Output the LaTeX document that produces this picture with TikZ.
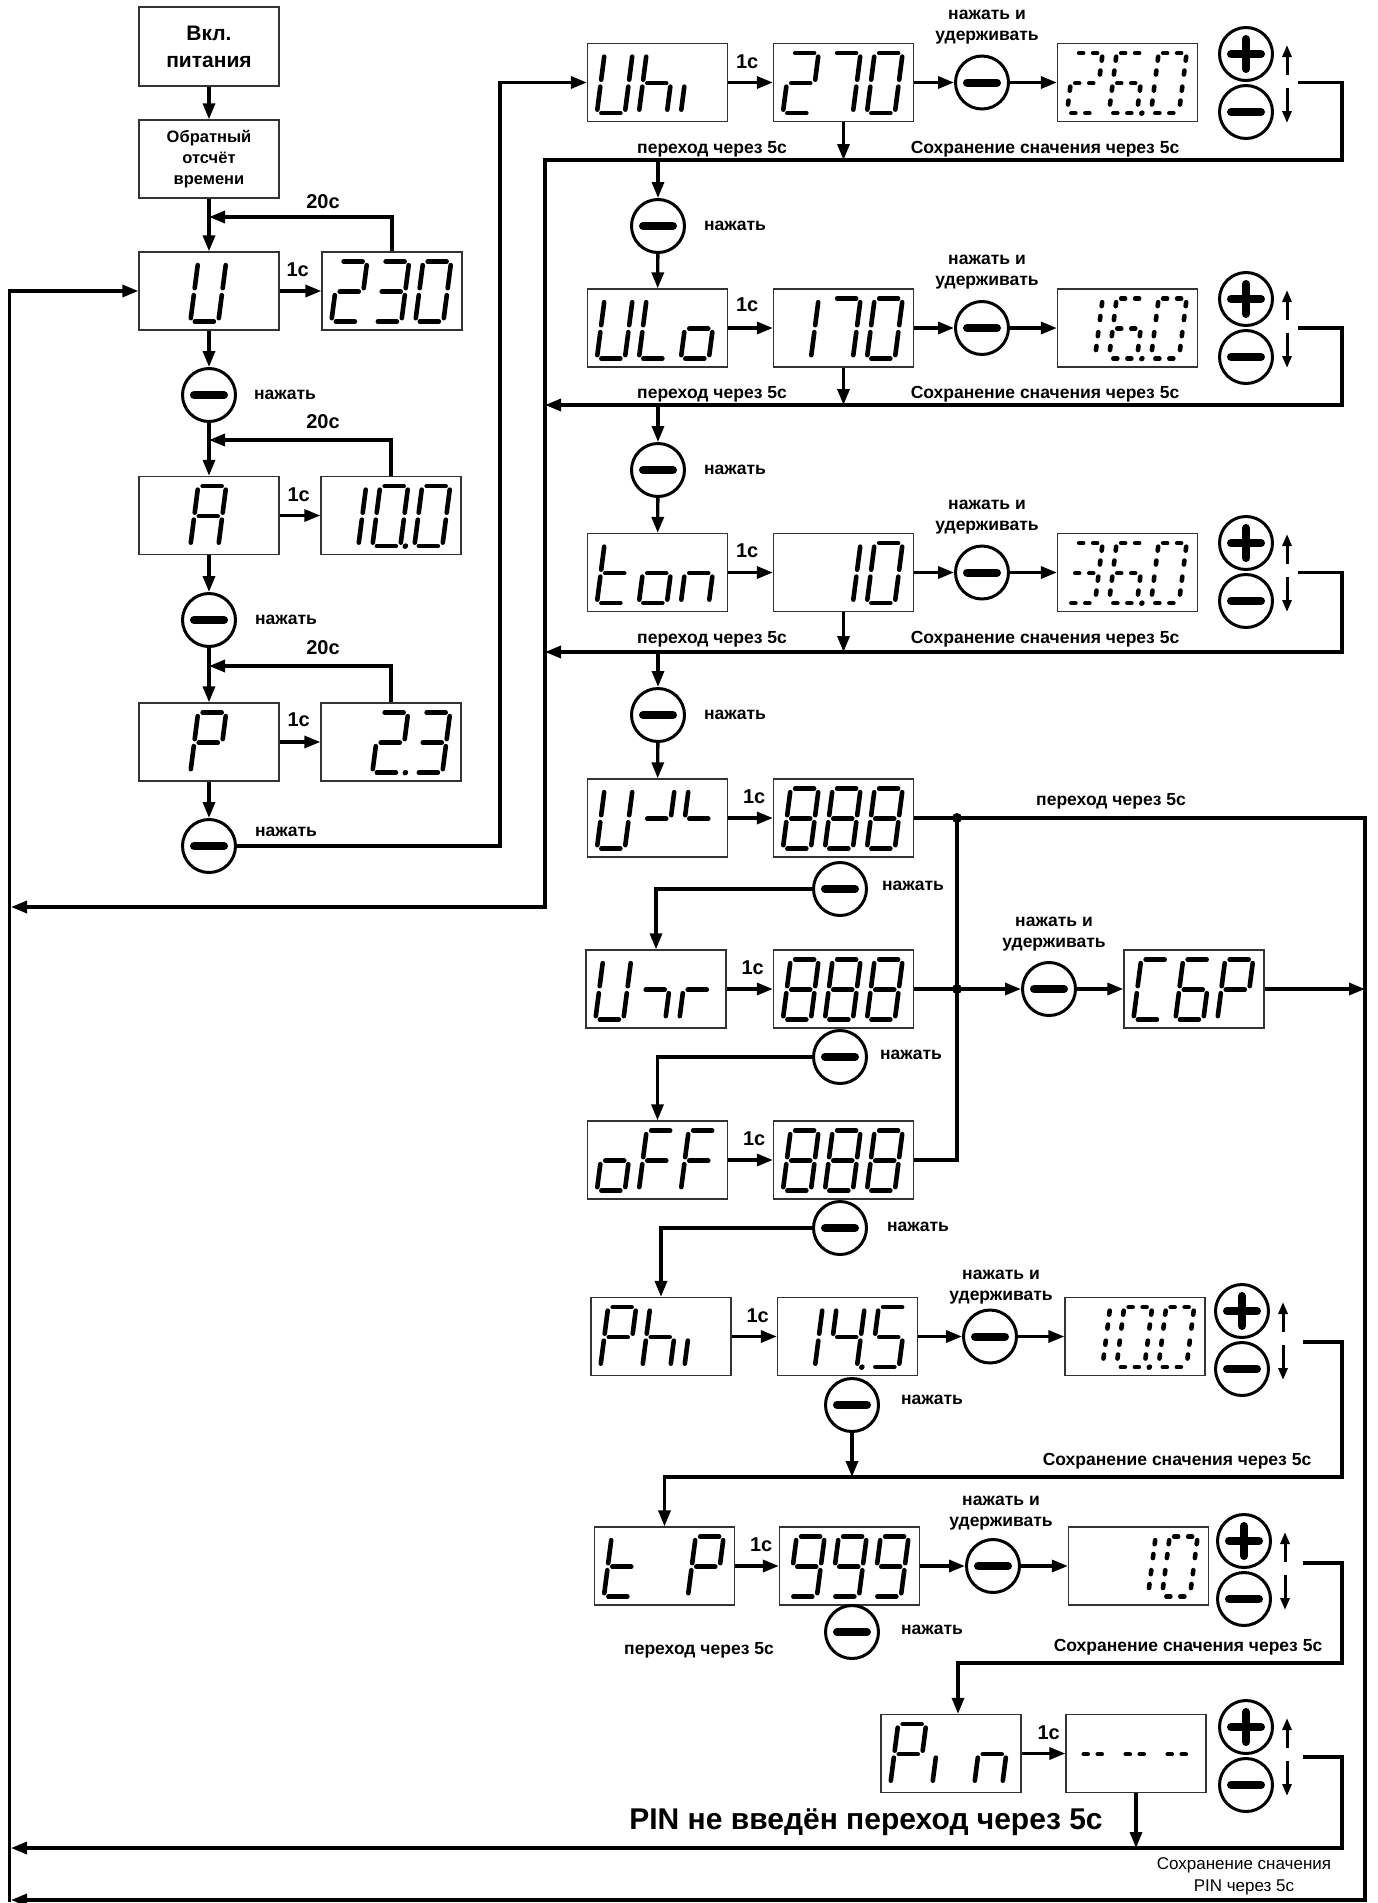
\documentclass[tikz,border=0pt]{standalone}
\usepackage{fontspec}
\setmainfont{Liberation Sans}
\usetikzlibrary{arrows.meta, calc}

% seven segment cells (local y down, origin = bottom left of a cell)
\tikzset{sgl/.style={line width=4.6pt, line cap=round},
  blink/.style={dash pattern=on 4pt off 10pt}}
\def\sga{\draw[sgl] (4.5,-60)--(23.5,-60);}
\def\sgb{\draw[sgl] (28,-56.5)--(28,-33.5);}
\def\sgc{\draw[sgl] (28,-26.5)--(28,-3.5);}
\def\sgd{\draw[sgl] (4.5,0)--(23.5,0);}
\def\sge{\draw[sgl] (0,-26.5)--(0,-3.5);}
\def\sgf{\draw[sgl] (0,-56.5)--(0,-33.5);}
\def\sgg{\draw[sgl] (4.5,-30)--(23.5,-30);}
\def\sgp{\fill (33,0) circle (2.8);}
\def\segzero{a,b,c,d,e,f}
\def\segone{b,c}
\def\segtwo{a,b,g,e,d}
\def\segthree{a,b,g,c,d}
\def\segfour{f,g,b,c}
\def\segfive{a,f,g,c,d}
\def\segsix{a,f,g,e,d,c}
\def\segseven{a,b,c}
\def\segeight{a,b,c,d,e,f,g}
\def\segnine{a,b,c,d,f,g}
\def\segU{b,c,d,e,f}
\def\segA{a,b,c,e,f,g}
\def\segP{a,b,e,f,g}
\def\segh{f,e,g,c}
\def\segL{f,e,d}
\def\sego{g,c,d,e}
\def\segt{f,e,g,d}
\def\segn{e,g,c}
\def\segF{a,e,f,g}
\def\segC{a,d,e,f}
\def\segb{a,f,g,e,d,c}
% #1 extra style, #2 display node, #3 cell 0..2, #4 segments
\newcommand\dg[4][]{%
  \edef\seglist{#4}%
  \begin{scope}[shift={($(#2.south west)+(10+42*#3,-9)$)}, xslant=0.13, sgl/.append style={#1}]
    \foreach \s in \seglist {\csname sg\s\endcsname}
  \end{scope}}
% plus / minus keys with small arrows
\newcommand\updn[3]{%
  \node[btnp] (#1p) at (#2,#3-29) {};
  \node[btnm] (#1m) at (#2,#3+29) {};
  \draw[sar] ($(#1p)+(41,21)$) -- ($(#1p)+(41,-9)$);
  \draw[sar] ($(#1m)+(41,-24)$) -- ($(#1m)+(41,11)$);}

\begin{document}
\begin{tikzpicture}[x=1pt, y=-1pt,
  lcd/.style={draw=black!80, line width=1.3pt, minimum width=140pt, minimum height=78pt, inner sep=0pt},
  tbox/.style={lcd, align=center, font=\bfseries\fontsize{16.5}{21}\selectfont},
  btn/.style={circle, draw, line width=3pt, minimum size=53pt, inner sep=0pt},
  btnm/.style={btn, path picture={\draw[line width=8pt, line cap=round]
      ($(path picture bounding box.center)+(-15,0)$) -- ($(path picture bounding box.center)+(15,0)$);}},
  btnp/.style={btn, path picture={\draw[line width=8pt, line cap=round]
      ($(path picture bounding box.center)+(-15,0)$) -- ($(path picture bounding box.center)+(15,0)$)
      ($(path picture bounding box.center)+(0,-15)$) -- ($(path picture bounding box.center)+(0,15)$);}},
  ln/.style={line width=3.3pt},
  ar/.style={ln, -{Triangle[length=16pt, width=12pt]}},
  sar/.style={line width=3pt, -{Triangle[length=12pt, width=9pt]}},
  lbl/.style={font=\bfseries\fontsize{17.5}{21}\selectfont, inner sep=0pt, align=center},
  sec/.style={font=\bfseries\fontsize{20}{22}\selectfont, inner sep=0pt},
  dot/.style={circle, fill, inner sep=0pt, minimum size=10pt},
]
\useasboundingbox (0,0) rectangle (1378,1903);

% left column: power on, countdown, U / A / P
\node[tbox, font=\bfseries\fontsize{21}{27}\selectfont, minimum height=79pt] (pwr) at (209,46.5) {Вкл.\\питания};
\node[tbox] (cnt) at (209,159) {Обратный\\отсчёт\\времени};
\node[lcd] (lu) at (209,291) {};
\node[lcd] (luv) at (392,291) {};
\node[btnm] (b1) at (209,395) {};
\node[lcd] (la) at (209,515.5) {};
\node[lcd] (lav) at (391,515.5) {};
\node[btnm] (b2) at (209,620) {};
\node[lcd] (lp) at (209,742) {};
\node[lcd] (lpv) at (391,742) {};
\node[btnm] (b3) at (209,846) {};
\coordinate (j1) at (209,217);
\coordinate (j2) at (209,440);
\coordinate (j3) at (209,666);

\draw[ar] (pwr) -- (cnt);
\draw[ar] (cnt) -- (lu);
\draw[ar] (lu) -- (luv);
\draw[ar] (luv.north) |- (j1);
\draw[ar] (lu) -- (b1);
\draw[ar] (b1) -- (la);
\draw[ar] (la) -- (lav);
\draw[ar] (lav.north) |- (j2);
\draw[ar] (la) -- (b2);
\draw[ar] (b2) -- (lp);
\draw[ar] (lp) -- (lpv);
\draw[ar] (lpv.north) |- (j3);
\draw[ar] (lp) -- (b3);

\node[sec] (s20a) at (323,202) {20с};
\node[sec] (s20b) at (323,422) {20с};
\node[sec] (s20c) at (323,648) {20с};
\node[sec] (s1a) at ($(lu.east)+(18,-21)$) {1с};
\node[sec] (s1b) at ($(la.east)+(19,-21)$) {1с};
\node[sec] (s1c) at ($(lp.east)+(19,-22)$) {1с};
\node[lbl] (pa) at (285,395) {нажать};
\node[lbl] (pb) at (286,620) {нажать};
\node[lbl] (pc) at (286,832) {нажать};

\dg{lu}{1}{\segU}
\dg{luv}{0}{\segtwo} \dg{luv}{1}{\segthree} \dg{luv}{2}{\segzero}
\dg{la}{1}{\segA}
\dg{lav}{0}{\segone} \dg{lav}{1}{\segzero,p} \dg{lav}{2}{\segzero}
\dg{lp}{1}{\segP}
\dg{lpv}{1}{\segtwo,p} \dg{lpv}{2}{\segthree}

% row Uhi
\node[lcd] (uhi) at (657.5,82.5) {};
\node[lcd] (uhiv) at (843.5,82.5) {};
\node[btnm] (uhib) at (982,82.5) {};
\node[lcd] (uhie) at (1127.5,82.5) {};
\updn{uhik}{1246}{83}
\coordinate (k1) at (500,82.5);
\coordinate (s1) at (1298,82.5);
\coordinate (r1) at (1342,160);
\coordinate (t1) at (545,160);
\coordinate (t2) at (11,907);
\draw[ar] (b3) -| (k1) -- (uhi);
\draw[ar] (uhi) -- (uhiv);
\draw[ar] (uhiv) -- (uhib);
\draw[ar] (uhib) -- (uhie);
\draw[ar] (s1) -| (r1) -- (t1) |- (t2);
\draw[ar] (uhiv) -- (uhiv |- r1);
\node[btnm] (c1) at (658,226) {};
\draw[ar] (c1 |- r1) -- (c1);
\node[sec] (s1d) at ($(uhi.east)+(19,-21)$) {1с};
\node[lbl] (h1) at (987,27) {нажать и\\удерживать};
\node[lbl] (g1) at (712,149) {переход через 5с};
\node[lbl] (v1) at (1045,149) {Сохранение сначения через 5с};
\node[lbl] (pd) at (735,226) {нажать};
\dg{uhi}{0}{\segU} \dg{uhi}{1}{\segh} \dg{uhi}{2}{e}
\dg{uhiv}{0}{\segtwo} \dg{uhiv}{1}{\segseven} \dg{uhiv}{2}{\segzero}
\dg[blink]{uhie}{0}{\segtwo} \dg[blink]{uhie}{1}{\segsix,p} \dg[blink]{uhie}{2}{\segzero}

% row ULo
\node[lcd] (ulo) at (657.5,328) {};
\node[lcd] (ulov) at (843.5,328) {};
\node[btnm] (ulob) at (982,328) {};
\node[lcd] (uloe) at (1127.5,328) {};
\updn{ulok}{1246}{328}
\coordinate (s2) at (1298,328);
\coordinate (r2) at (1342,405);
\draw[ar] (c1) -- (ulo);
\draw[ar] (ulo) -- (ulov);
\draw[ar] (ulov) -- (ulob);
\draw[ar] (ulob) -- (uloe);
\draw[ar] (s2) -| (r2) -- (r2 -| t1);
\draw[ar] (ulov) -- (ulov |- r2);
\node[btnm] (c2) at (658,470) {};
\draw[ar] (c2 |- r2) -- (c2);
\node[sec] (s1e) at ($(ulo.east)+(19,-23)$) {1с};
\node[lbl] (h2) at (987,272.5) {нажать и\\удерживать};
\node[lbl] (g2) at (712,394) {переход через 5с};
\node[lbl] (v2) at (1045,394) {Сохранение сначения через 5с};
\node[lbl] (pe) at (735,470) {нажать};
\dg{ulo}{0}{\segU} \dg{ulo}{1}{\segL} \dg{ulo}{2}{\sego}
\dg{ulov}{0}{\segone} \dg{ulov}{1}{\segseven} \dg{ulov}{2}{\segzero}
\dg[blink]{uloe}{0}{\segone} \dg[blink]{uloe}{1}{\segsix,p} \dg[blink]{uloe}{2}{\segzero}

% row ton
\node[lcd] (ton) at (657.5,572.5) {};
\node[lcd] (tonv) at (843.5,572.5) {};
\node[btnm] (tonb) at (982,572.5) {};
\node[lcd] (tone) at (1127.5,572.5) {};
\updn{tonk}{1246}{572}
\coordinate (s3) at (1298,572.5);
\coordinate (r3) at (1342,652);
\draw[ar] (c2) -- (ton);
\draw[ar] (ton) -- (tonv);
\draw[ar] (tonv) -- (tonb);
\draw[ar] (tonb) -- (tone);
\draw[ar] (s3) -| (r3) -- (r3 -| t1);
\draw[ar] (tonv) -- (tonv |- r3);
\node[btnm] (c3) at (658,715) {};
\draw[ar] (c3 |- r3) -- (c3);
\node[sec] (s1f) at ($(ton.east)+(19,-22)$) {1с};
\node[lbl] (h3) at (987,517.5) {нажать и\\удерживать};
\node[lbl] (g3) at (712,639) {переход через 5с};
\node[lbl] (v3) at (1045,639) {Сохранение сначения через 5с};
\node[lbl] (pf) at (735,715) {нажать};
\dg{ton}{0}{\segt} \dg{ton}{1}{\sego} \dg{ton}{2}{\segn}
\dg{tonv}{1}{\segone} \dg{tonv}{2}{\segzero}
\dg[blink]{tone}{0}{\segthree} \dg[blink]{tone}{1}{\segsix,p} \dg[blink]{tone}{2}{\segzero}

% rows U-L, Ur, oFF and reset
\node[lcd] (ul) at (657.5,818) {};
\node[lcd] (ulv) at (843.5,818) {};
\coordinate (jn1) at (957,818);
\coordinate (q1) at (1365,818);
\coordinate (q2) at (11,1900);
\draw[ar] (c3) -- (ul);
\draw[ar] (ul) -- (ulv);
\draw[ar] (ulv) -- (jn1) -- (q1) |- (q2);
\node[sec] (s1g) at ($(ul.east)+(26,-21)$) {1с};
\node[lbl] (g4) at (1111,801) {переход через 5с};
\dg{ul}{0}{\segU} \dg{ul}{1}{b,g} \dg{ul}{2}{f,g}
\dg{ulv}{0}{\segeight} \dg{ulv}{1}{\segeight} \dg{ulv}{2}{\segeight}

\node[lcd] (ur) at (656,989) {};
\node[lcd] (urv) at (843.5,989) {};
\node[btnm] (urb) at (1049,989) {};
\node[lcd] (sbr) at (1194,989) {};
\coordinate (jn2) at (957,989);
\node[btnm] (nb1) at (840,889) {};
\draw[ar] (nb1) -| (ur);
\draw[ar] (ur) -- (urv);
\draw[ln] (urv) -- (jn2);
\draw[ar] (jn2) -- (urb);
\draw[ar] (urb) -- (sbr);
\draw[ar] (sbr) -- (sbr -| q1);
\node[sec] (s1h) at ($(ur.east)+(26,-21)$) {1с};
\node[lbl] (ph) at (913,886) {нажать};
\node[lbl] (h4) at (1054,934.5) {нажать и\\удерживать};
\dg{ur}{0}{\segU} \dg{ur}{1}{c,g} \dg{ur}{2}{e,g}
\dg{urv}{0}{\segeight} \dg{urv}{1}{\segeight} \dg{urv}{2}{\segeight}
\dg{sbr}{0}{\segC} \dg{sbr}{1}{\segb} \dg{sbr}{2}{\segP}

\node[lcd] (off) at (657.5,1160) {};
\node[lcd] (offv) at (843.5,1160) {};
\coordinate (jn3) at (957,1160);
\node[btnm] (nb2) at (840,1057) {};
\draw[ar] (nb2) -| (off);
\draw[ar] (off) -- (offv);
\draw[ln] (offv) -- (jn3) -- (jn1);
\node[dot] (d1) at (jn1) {};
\node[dot] (d2) at (jn2) {};
\node[sec] (s1i) at ($(off.east)+(26,-21)$) {1с};
\node[lbl] (pi) at (911,1055) {нажать};
\dg{off}{0}{\sego} \dg{off}{1}{\segF} \dg{off}{2}{\segF}
\dg{offv}{0}{\segeight} \dg{offv}{1}{\segeight} \dg{offv}{2}{\segeight}
\node[btnm] (nb3) at (840,1228) {};
\node[lbl] (pj) at (918,1227) {нажать};

% row PHi
\node[lcd] (phi) at (661,1336.5) {};
\node[lcd] (phiv) at (847.5,1336.5) {};
\node[btnm] (phib) at (990,1336.5) {};
\node[lcd] (phie) at (1135,1336.5) {};
\updn{phik}{1242}{1340}
\node[lcd] (tp) at (664.5,1566) {};
\coordinate (s7) at (1303,1342);
\coordinate (r7) at (1342,1477);
\draw[ar] (nb3) -| (phi);
\draw[ar] (phi) -- (phiv);
\draw[ar] (phiv) -- (phib);
\draw[ar] (phib) -- (phie);
\draw[ar] (s7) -| (r7) -| (tp);
\node[btnm] (nb4) at (852,1405) {};
\draw[ar] (nb4) -- (nb4 |- r7);
\node[sec] (s1j) at ($(phi.east)+(26,-21)$) {1с};
\node[lbl] (h5) at (1001,1287) {нажать и\\удерживать};
\node[lbl] (pk) at (932,1400) {нажать};
\node[lbl] (v5) at (1177,1461) {Сохранение сначения через 5с};
\dg{phi}{0}{\segP} \dg{phi}{1}{\segh} \dg{phi}{2}{e}
\dg{phiv}{0}{\segone} \dg{phiv}{1}{\segfour,p} \dg{phiv}{2}{\segfive}
\dg[blink]{phie}{0}{\segone} \dg[blink]{phie}{1}{\segzero,p} \dg[blink]{phie}{2}{\segzero}

% row tP
\node[lcd] (tpv) at (849.5,1566) {};
\node[btnm] (tpb) at (993,1566) {};
\node[lcd] (tpe) at (1138.5,1566) {};
\updn{tpk}{1244}{1570}
\node[lcd] (pin) at (951,1753.5) {};
\coordinate (s8) at (1303,1563);
\coordinate (r8) at (1342,1663);
\coordinate (e8) at (958,1663);
\draw[ar] (tp) -- (tpv);
\draw[ar] (tpv) -- (tpb);
\draw[ar] (tpb) -- (tpe);
\draw[ar] (s8) -| (r8) -- (e8) -- (e8 |- pin.north);
\node[btnm] (nb5) at (852,1632) {};
\node[sec] (s1k) at ($(tp.east)+(26,-21)$) {1с};
\node[lbl] (h6) at (1001,1513) {нажать и\\удерживать};
\node[lbl] (pl) at (932,1630) {нажать};
\node[lbl] (g6) at (699,1650) {переход через 5с};
\node[lbl] (v6) at (1188,1647) {Сохранение сначения через 5с};
\dg{tp}{0}{\segt} \dg{tp}{2}{\segP}
\dg{tpv}{0}{\segnine} \dg{tpv}{1}{\segnine} \dg{tpv}{2}{\segnine}
\dg[blink]{tpe}{1}{\segone} \dg[blink]{tpe}{2}{\segzero}

% row Pin
\node[lcd] (pinv) at (1136,1753.5) {};
\updn{pink}{1246}{1756}
\coordinate (s9) at (1303,1757);
\coordinate (r9) at (1342,1848);
\coordinate (t9) at (11,1848);
\draw[ar] (pin) -- (pinv);
\draw[ar] (s9) -| (r9) -- (t9);
\draw[ar] (pinv) -- (pinv |- r9);
\node[sec] (s1l) at ($(pin.east)+(27,-21)$) {1с};
\node[font=\bfseries\fontsize{30}{32}\selectfont, inner sep=0pt] (nopin) at (866,1822) {PIN не введён переход через 5с};
\node[font=\fontsize{17}{22}\selectfont, inner sep=0pt, align=center] (vpin) at (1244,1876) {Сохранение сначения\\PIN через 5с};
\dg{pin}{0}{\segP} \dg{pin}{1}{e} \dg{pin}{2}{\segn}
\dg[blink]{pinv}{0}{g} \dg[blink]{pinv}{1}{g} \dg[blink]{pinv}{2}{g}

% left return line
\coordinate (lft) at (9.5,1901.6);
\draw[ar] (lft) |- (lu);
\end{tikzpicture}
\end{document}
